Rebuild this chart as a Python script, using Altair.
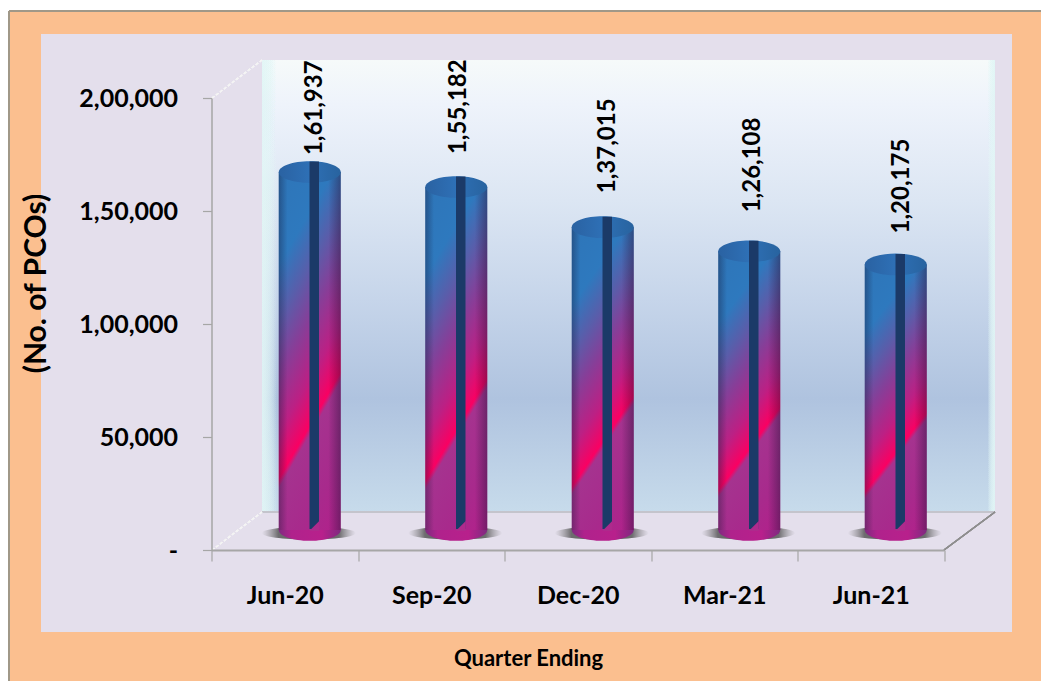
import altair as alt
import pandas as pd

quarters = ["Jun-20", "Sep-20", "Dec-20", "Mar-21", "Jun-21"]
pcos = [161937, 155182, 137015, 126108, 120175]
value_labels = ["1,61,937", "1,55,182", "1,37,015", "1,26,108", "1,20,175"]
tick_values = [0, 50000, 100000, 150000, 200000]
tick_labels = ["-\u00a0\u00a0\u00a0", "50,000", "1,00,000", "1,50,000", "2,00,000"]

df = pd.DataFrame({"quarter": quarters, "pcos": pcos, "label": value_labels, "base": [0] * 5})

FONT = "Lato"
W, H = 732.5, 452
OX, OY = 211.5, 98  # view origin in page pixels
TOTAL_W, TOTAL_H = 1033, 673


def vx(px):
    return alt.value(px - OX)


def vy(px):
    return alt.value(px - OY)


def panel(x0, y0, x1, y1, fill):
    return alt.Chart(df).mark_rect(fill=fill).encode(x=vx(x0), x2=vx(x1), y=vy(y0), y2=vy(y1))


def line(x0, y0, x1, y1, color, width=1.0, dash=None):
    kw = {"color": color, "strokeWidth": width}
    if dash:
        kw["strokeDash"] = dash
    return alt.Chart(df).mark_rule(**kw).encode(x=vx(x0), x2=vx(x1), y=vy(y0), y2=vy(y1))


def stop(o, c):
    return alt.GradientStop(offset=o, color=c)


def linear(x2, y2, stops):
    return alt.LinearGradient(gradient="linear", x1=0, y1=0, x2=x2, y2=y2, stops=stops)


# page furniture
orange = panel(9, 11, 1060, 700, "#FBBF8F")
border_top = line(9, 11, 1060, 11, "#A09888", 1.5)
border_left = line(9, 11, 9, 700, "#A09888", 1.5)
lavender = panel(41, 34, 1012, 632, "#E4DFEC")

wall_fill = linear(0, 1, [
    stop(0, "#F6FAFA"), stop(0.1, "#EEF3FB"), stop(0.31, "#DCE6F3"),
    stop(0.53, "#C6D5EA"), stop(0.75, "#AFC3DF"), stop(1, "#C7DBEB")])
wall = panel(262, 60, 995, 512, wall_fill)
wall_edges = panel(262, 60, 995, 512, linear(1, 0, [
    stop(0, "rgba(225,245,245,0.4)"), stop(0.02, "rgba(225,245,245,0)"),
    stop(0.99, "rgba(225,245,245,0)"), stop(1, "rgba(225,245,245,0.45)")]))

furniture = [
    orange, border_top, border_left, lavender, wall, wall_edges,
    line(262, 512, 995, 512, "#C4C4CC", 2),
    line(944, 550, 995, 512, "#8E8E8E", 1.3),
    line(212, 98, 262, 60, "#F4F4F4", 1.2, [3, 2]),
    line(212, 550, 262, 512, "#F4F4F4", 1.2, [3, 2]),
]

# axes
axis_style = dict(labelFont=FONT, labelFontWeight="bold", labelColor="black",
                  titleFont=FONT, titleFontWeight="bold", titleColor="black",
                  domainColor="#A6A6A6", tickColor="#A6A6A6", zindex=1, grid=False)
label_expr = " : ".join(f"datum.value == {v} ? '{t}'" for v, t in zip(tick_values, tick_labels)) + " : ''"
axes = alt.Chart(df).mark_point(opacity=0).encode(
    x=alt.X("quarter:N", sort=quarters,
            scale=alt.Scale(domain=quarters, paddingInner=0, paddingOuter=0),
            axis=alt.Axis(title="Quarter Ending", labelAngle=0, labelFontSize=25, tickBand="extent",
                          labelPadding=22, tickSize=11, domainWidth=2, tickWidth=1.2,
                          titleFontSize=22, titleX=528 - OX, titleY=115, titleBaseline="alphabetic",
                          titleAnchor="start", titleAlign="center", **axis_style)),
    y=alt.Y("pcos:Q", scale=alt.Scale(domain=[0, 200000], nice=False),
            axis=alt.Axis(title="(No. of PCOs)", values=tick_values, labelExpr=label_expr,
                          labelFontSize=25, labelPadding=25, tickSize=9, domainWidth=1.5, tickWidth=1.2,
                          titleFontSize=30, titleX=36 - OX, titleY=283 - OY, titleAngle=270,
                          titleAlign="center", titleBaseline="middle", titleAnchor="start", **axis_style)),
)


# cylinder scales: shifted back from the axis plane
def xband(width, shift=0):
    p = 1 - width / (W / 5)
    return alt.Scale(domain=quarters, range=[25 + shift, 25 + W + shift], paddingInner=p, paddingOuter=p / 2)


Y_BARS = alt.Scale(domain=[0, 200000], range=[432, -10], nice=False)


def X(width, shift=0):
    return alt.X("quarter:N", sort=quarters, scale=xband(width, shift), axis=None)


yv = alt.Y("pcos:Q", scale=Y_BARS, axis=None)
y0 = alt.Y("base:Q", scale=Y_BARS, axis=None)
y2b = alt.Y2("base:Q")

ELLIPSE_SHADOW = "M-1,0 A1,0.14 0 1,1 1,0 A1,0.14 0 1,1 -1,0 Z"
ELLIPSE = "M-1,0 A1,0.35 0 1,1 1,0 A1,0.35 0 1,1 -1,0 Z"
CUT = "M-1,1 L1,-1 L1,1 Z"

shadow = alt.Chart(df).mark_point(
    shape=ELLIPSE_SHADOW, filled=True, size=94 * 94, opacity=1, yOffset=3,
    fill=alt.RadialGradient(gradient="radial", x1=0.5, y1=0.5, r1=0, x2=0.5, y2=0.5, r2=0.5, stops=[
        stop(0, "rgba(70,70,70,0.9)"), stop(0.65, "rgba(80,80,80,0.8)"), stop(1, "rgba(130,130,130,0)")]),
).encode(x=X(10, -1), y=y0)

bottom_ellipse = alt.Chart(df).mark_point(
    shape=ELLIPSE, filled=True, size=62 * 62, opacity=1,
    fill=linear(1, 0, [stop(0, "#7E2A80"), stop(0.2, "#B0228C"), stop(0.7, "#B8208C"), stop(1, "#7E2A80")]),
).encode(x=X(10), y=y0)

body_fill = alt.LinearGradient(gradient="linear", x1=0, y1=0, x2=0.358, y2=1.193, stops=[
    stop(0, "#2E75B8"), stop(0.2, "#2E79BE"), stop(0.32, "#5A5DAA"), stop(0.43, "#873E98"),
    stop(0.56, "#BC2084"), stop(0.66, "#FA0062"), stop(0.68, "#A5338F"), stop(0.85, "#A82A8C"),
    stop(1, "#B3208B")])
body = alt.Chart(df).mark_bar(fill=body_fill).encode(x=X(62), y=yv, y2=y2b)

shade = alt.Chart(df).mark_bar(fill=linear(1, 0, [
    stop(0, "rgba(20,20,50,0.35)"), stop(0.14, "rgba(20,20,50,0)"),
    stop(0.8, "rgba(20,20,50,0)"), stop(1, "rgba(20,20,50,0.4)")])).encode(x=X(62), y=yv, y2=y2b)

top_ellipse = alt.Chart(df).mark_point(
    shape=ELLIPSE, filled=True, size=62 * 62, opacity=1,
    fill=linear(1, 0, [stop(0, "#2A62A2"), stop(0.5, "#2E70B6"), stop(1, "#28639F")]),
).encode(x=X(10), y=yv)

stripe = alt.Chart(df).mark_bar(fill="#1B3A68", yOffset=-10.5, y2Offset=-1).encode(x=X(9.5, 4.5), y=yv, y2=y2b)

stripe_cut = alt.Chart(df).mark_point(
    shape=CUT, filled=True, size=100, opacity=1, fill="#AE2A8C", yOffset=-4,
).encode(x=X(10, 4.5), y=y0)

# value labels: each hand-placed above its cylinder, as in the source chart
label_nudges = [(12, 17), (10, 33), (12, 34), (11, 39), (13, 31)]
labels = [
    alt.Chart(df).transform_filter(alt.FieldEqualPredicate(field="quarter", equal=q)).mark_text(
        font=FONT, fontWeight="bold", fontSize=24, color="black", angle=270, align="left",
        baseline="alphabetic", xOffset=dx, yOffset=-gap,
    ).encode(x=X(10), y=yv, text="label:N")
    for q, (dx, gap) in zip(quarters, label_nudges)
]

chart = alt.layer(
    *furniture, axes, shadow, bottom_ellipse, body, shade, top_ellipse, stripe, stripe_cut, *labels
).resolve_scale(x="independent", y="independent").properties(
    width=W, height=H,
    autosize=alt.AutoSizeParams(type="none"),
    padding={"left": OX - 8, "top": OY - 8, "right": TOTAL_W - (OX - 8) - W, "bottom": TOTAL_H - (OY - 8) - H},
    background="white",
).configure_view(stroke=None)

chart.save("out.html", embed_options={"renderer": "svg", "actions": False})
